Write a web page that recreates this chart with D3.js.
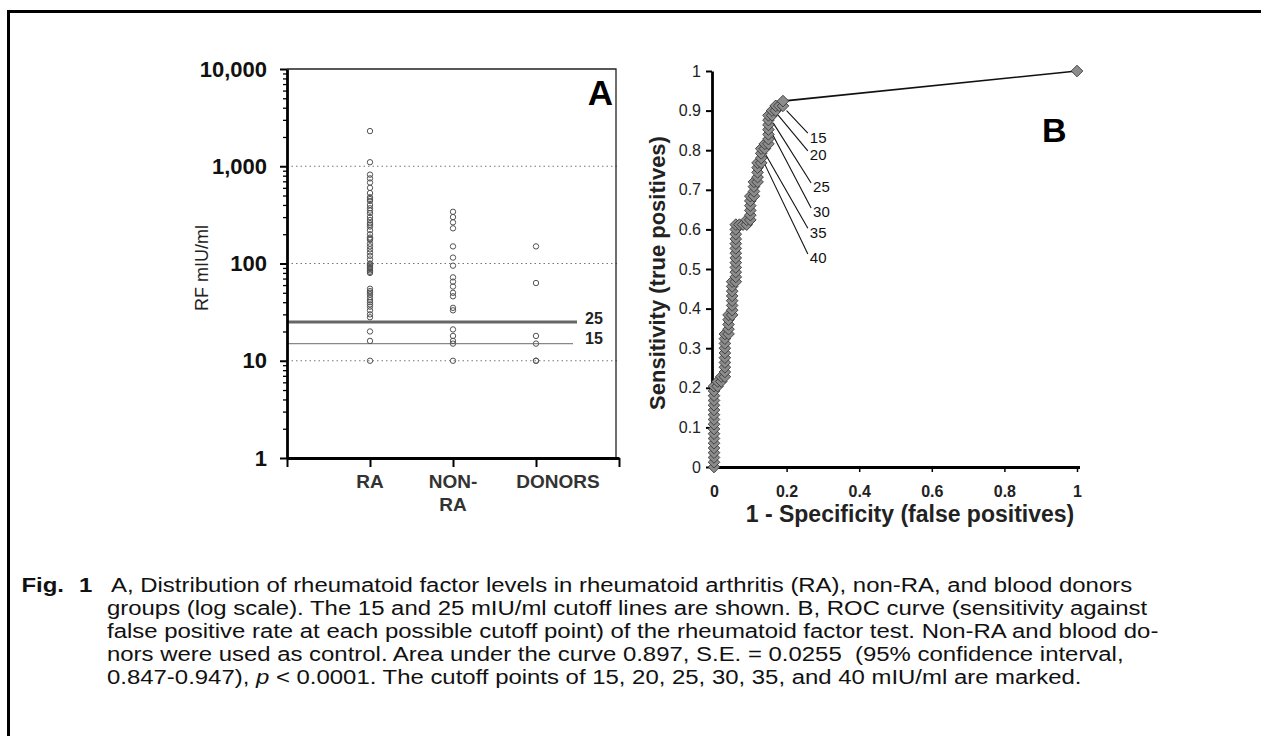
<!DOCTYPE html>
<html>
<head>
<meta charset="utf-8">
<script src="https://cdn.jsdelivr.net/npm/d3@7"></script>
<style>
  body { margin: 0; background: #fff; }
  svg { display: block; font-family: "Liberation Sans", Arial, sans-serif; }
</style>
</head>
<body>
<svg id="fig" width="1261" height="736"></svg>
<script>
// ---- panel A : RF levels (mIU/ml), log scale ----
const groups = ["RA", "NON-RA", "DONORS"];
const groupLabelLines = [["RA"], ["NON-", "RA"], ["DONORS"]];
const raValues = [2300, 1100, 820, 750, 680, 600, 530, 480, 460, 440, 400, 370, 350, 330, 300,
  280, 260, 250, 240, 220, 200, 185, 180, 175, 160, 150, 140, 130, 120, 110, 100, 98, 95, 92,
  90, 88, 85, 82, 80, 55, 52, 50, 48, 45, 42, 40, 38, 36, 33, 30, 28, 20, 16, 10];
const nonRaValues = [340, 300, 265, 230, 150, 115, 95, 72, 65, 58, 50, 46, 35, 33, 21, 18, 16, 15, 10];
const donorValues = [150, 63, 18, 15, 10, 10];
const decadeTicks = [1, 10, 100, 1000, 10000];
const gridValues = [10, 100, 1000];
const cutoffLines = [25, 15];

// ---- panel B : ROC curve ----
const fpr = [0, 0, 0, 0, 0, 0, 0, 0, 0, 0, 0, 0, 0, 0, 0, 0, 0, 0,
  0.01, 0.01, 0.02, 0.02, 0.03, 0.03, 0.03, 0.03, 0.03, 0.03, 0.03, 0.03, 0.03, 0.03,
  0.04, 0.04, 0.04, 0.04, 0.04, 0.05, 0.05, 0.05, 0.05, 0.05, 0.05, 0.05, 0.05,
  0.06, 0.06, 0.06, 0.06, 0.06, 0.06, 0.06, 0.06, 0.06, 0.06, 0.06, 0.06, 0.06,
  0.07, 0.08, 0.09, 0.09, 0.1, 0.1, 0.1, 0.1, 0.1, 0.1, 0.11, 0.11, 0.11, 0.11,
  0.12, 0.12, 0.12, 0.12, 0.12, 0.13, 0.13, 0.13, 0.13, 0.14, 0.14, 0.15, 0.15, 0.15,
  0.15, 0.15, 0.15, 0.15, 0.16, 0.16, 0.17, 0.17, 0.18, 0.19, 0.19, 1];
const tpr = [0, 0.012, 0.024, 0.036, 0.048, 0.06, 0.072, 0.084, 0.096, 0.108, 0.12, 0.132, 0.144, 0.156, 0.168, 0.18, 0.192, 0.204,
  0.204, 0.216, 0.216, 0.228, 0.228, 0.24, 0.252, 0.264, 0.276, 0.288, 0.3, 0.312, 0.324, 0.336,
  0.336, 0.348, 0.36, 0.372, 0.384, 0.384, 0.396, 0.408, 0.42, 0.432, 0.444, 0.456, 0.468,
  0.468, 0.48, 0.492, 0.504, 0.516, 0.528, 0.54, 0.552, 0.564, 0.576, 0.588, 0.6, 0.612,
  0.612, 0.612, 0.612, 0.624, 0.624, 0.636, 0.648, 0.66, 0.672, 0.684, 0.684, 0.696, 0.708, 0.72,
  0.72, 0.732, 0.744, 0.756, 0.768, 0.768, 0.78, 0.792, 0.804, 0.804, 0.816, 0.816, 0.828, 0.84,
  0.852, 0.864, 0.876, 0.888, 0.888, 0.9, 0.9, 0.912, 0.912, 0.912, 0.924, 1];
const rocYTicks = [0, 0.1, 0.2, 0.3, 0.4, 0.5, 0.6, 0.7, 0.8, 0.9, 1];
const rocXTicks = [0, 0.2, 0.4, 0.6, 0.8, 1];
// cutoff points marked on the curve and where their numbers sit
const cutoffNames = ["15", "20", "25", "30", "35", "40"];
const cutoffFpr = [0.2, 0.176, 0.163, 0.152, 0.143, 0.138];
const cutoffTpr = [0.9, 0.889, 0.869, 0.856, 0.788, 0.768];
const cutoffLabelFpr = [0.264, 0.264, 0.273, 0.273, 0.264, 0.264];
const cutoffLabelTpr = [0.833, 0.788, 0.707, 0.644, 0.593, 0.528];

const captionLines = [
  "A, Distribution of rheumatoid factor levels in rheumatoid arthritis (RA), non-RA, and blood donors",
  "groups (log scale). The 15 and 25 mIU/ml cutoff lines are shown. B, ROC curve (sensitivity against",
  "false positive rate at each possible cutoff point) of the rheumatoid factor test. Non-RA and blood do-",
  "nors were used as control. Area under the curve 0.897, S.E. = 0.0255  (95% confidence interval,",
  "0.847-0.947), |p| < 0.0001. The cutoff points of 15, 20, 25, 30, 35, and 40 mIU/ml are marked."
];

const svg = d3.select("#fig");

// outer frame of the figure
svg.append("rect").attr("x", 8.5).attr("y", 11.5).attr("width", 1300).attr("height", 800)
  .attr("fill", "none").attr("stroke", "#000").attr("stroke-width", 3);

// ================= panel A =================
const xA = d3.scaleLinear().domain([0, 4]).range([287, 619]);
const yA = d3.scaleLog().domain([1, 10000]).range([458, 69]);

const gA = svg.append("g");

// dotted grid lines
gA.selectAll(".grid").data(gridValues).enter().append("line")
  .attr("x1", xA(0)).attr("x2", xA(4))
  .attr("y1", d => yA(d)).attr("y2", d => yA(d))
  .attr("stroke", "#777").attr("stroke-width", 1.2).attr("stroke-dasharray", "1.5,3");

// top and right edges of plot area
gA.append("path")
  .attr("d", `M${xA(0)},${yA(10000)}H${xA(4) - 3}V${yA(1)}`)
  .attr("fill", "none").attr("stroke", "#222").attr("stroke-width", 1.3);

// cutoff lines
gA.selectAll(".cut").data(cutoffLines).enter().append("line")
  .attr("x1", xA(0)).attr("x2", (d, i) => i == 0 ? 577 : 573)
  .attr("y1", d => yA(d)).attr("y2", d => yA(d))
  .attr("stroke", (d, i) => i == 0 ? "#666" : "#888")
  .attr("stroke-width", (d, i) => i == 0 ? 3 : 1.2);
gA.selectAll(".cutlab").data(cutoffLines).enter().append("text")
  .attr("x", 585).attr("y", d => yA(d)).attr("dy", (d, i) => i == 0 ? "0.1em" : "0.0em")
  .attr("font-size", 16).attr("font-weight", "bold").attr("fill", "#222")
  .text(d => d);

// points
const groupValues = [raValues, nonRaValues, donorValues];
groupValues.forEach(function(vals, i) {
  gA.selectAll(".pt" + i).data(vals).enter().append("circle")
    .attr("cx", xA(i + 1)).attr("cy", d => yA(d)).attr("r", 2.7)
    .attr("fill", "none").attr("stroke", "#555").attr("stroke-width", 1);
});

// y axis, minor ticks then majors
const minorTicks = yA.ticks().filter(d => decadeTicks.indexOf(d) < 0);
gA.append("g").attr("transform", `translate(${xA(0)},0)`)
  .call(d3.axisLeft(yA).tickValues(minorTicks).tickSize(4).tickFormat(""))
  .call(g => g.select(".domain").remove())
  .selectAll("line").attr("stroke-width", 1.3);
const yAxA = gA.append("g").attr("transform", `translate(${xA(0)},0)`)
  .call(d3.axisLeft(yA).tickValues(decadeTicks).tickFormat(d3.format(",")).tickSize(7).tickSizeOuter(0).tickPadding(13));
yAxA.select(".domain").attr("stroke-width", 2.8);
yAxA.selectAll("line").attr("stroke-width", 2);
yAxA.selectAll("text").attr("font-size", 22).attr("font-weight", "bold")
  .attr("font-family", "'Liberation Sans', Arial, sans-serif").attr("fill", "#111");

// x axis
const xAxA = gA.append("g").attr("transform", `translate(0,${yA(1)})`)
  .call(d3.axisBottom(xA).tickValues([0, 1, 2, 3, 4]).tickFormat("").tickSize(9).tickSizeOuter(0));
xAxA.select(".domain").attr("stroke-width", 2.8);
xAxA.selectAll("line").attr("stroke-width", 2);

gA.selectAll(".cat").data(groups).enter().append("text")
  .attr("y", 488)
  .attr("text-anchor", "middle").attr("font-size", 19).attr("font-weight", "bold").attr("fill", "#333")
  .each(function(d, i) {
    const t = d3.select(this);
    groupLabelLines[i].forEach(function(line, j) {
      t.append("tspan").attr("x", xA(i + 1) + (i == 2 ? 22 : 0)).attr("dy", j == 0 ? 0 : 23).text(line);
    });
  });

gA.append("text")
  .attr("transform", "translate(208,268) rotate(-90)")
  .attr("text-anchor", "middle").attr("font-size", 18).attr("fill", "#222")
  .text("RF mIU/ml");

gA.append("text").attr("x", 613).attr("y", 105).attr("text-anchor", "end")
  .attr("font-size", 35).attr("font-weight", "bold").text("A");

// ================= panel B =================
const xB = d3.scaleLinear().domain([0, 1]).range([714, 1077]);
const yB = d3.scaleLinear().domain([0, 1]).range([467, 71]);
const gB = svg.append("g");

const yAxB = gB.append("g").attr("transform", `translate(${xB(0) - 2},0)`)
  .call(d3.axisLeft(yB).tickValues(rocYTicks).tickFormat(d => String(+d.toFixed(1))).tickSize(6).tickSizeOuter(0).tickPadding(5));
yAxB.select(".domain").attr("stroke-width", 2.8);
yAxB.selectAll("line").attr("stroke-width", 2);
yAxB.selectAll("text").attr("font-size", 16).attr("fill", "#222")
  .attr("font-family", "'Liberation Sans', Arial, sans-serif");

const xAxB = gB.append("g").attr("transform", `translate(0,${yB(0)})`)
  .call(d3.axisBottom(xB).tickValues(rocXTicks).tickFormat(d => String(+d.toFixed(1))).tickSize(5).tickSizeOuter(0).tickPadding(14));
xAxB.select(".domain").attr("stroke-width", 2.8).attr("d", `M${xB(0) - 3},0.5H${xB(1) + 3}`);
xAxB.selectAll("line").attr("stroke-width", 1.5);
xAxB.selectAll("text").attr("font-size", 16).attr("font-weight", "bold").attr("fill", "#222")
  .attr("font-family", "'Liberation Sans', Arial, sans-serif");

// leader lines for the cutoff numbers
gB.selectAll(".lead").data(cutoffNames).enter().append("line")
  .attr("x1", (d, i) => xB(cutoffFpr[i])).attr("y1", (d, i) => yB(cutoffTpr[i]))
  .attr("x2", (d, i) => xB(cutoffLabelFpr[i]) - 2).attr("y2", (d, i) => yB(cutoffLabelTpr[i]) - 4)
  .attr("stroke", "#111").attr("stroke-width", 1.1);
gB.selectAll(".cutB").data(cutoffNames).enter().append("text")
  .attr("x", (d, i) => xB(cutoffLabelFpr[i])).attr("y", (d, i) => yB(cutoffLabelTpr[i]))
  .attr("dy", "0.36em").attr("font-size", 15).attr("fill", "#111")
  .text(d => d);

// ROC line + diamonds
const roc = fpr.map((f, i) => [f, tpr[i]]);
gB.append("path").datum(roc)
  .attr("d", d3.line().x(d => xB(d[0])).y(d => yB(d[1])))
  .attr("fill", "none").attr("stroke", "#111").attr("stroke-width", 1.6);
const diamond = d3.symbol(d3.symbolSquare).size(68);
gB.selectAll(".dia").data(roc).enter().append("path")
  .attr("d", diamond)
  .attr("transform", d => `translate(${xB(d[0])},${yB(d[1])}) rotate(45)`)
  .attr("fill", "#8c8c8c").attr("stroke", "#333").attr("stroke-width", 0.8);

gB.append("text")
  .attr("transform", "translate(665,273) rotate(-90)")
  .attr("text-anchor", "middle").attr("font-size", 22).attr("font-weight", "bold").attr("fill", "#222")
  .text("Sensitivity (true positives)");
gB.append("text").attr("x", 910).attr("y", 522)
  .attr("text-anchor", "middle").attr("font-size", 23).attr("font-weight", "bold").attr("fill", "#222")
  .text("1 - Specificity (false positives)");

gB.append("text").attr("x", 1042).attr("y", 142)
  .attr("font-size", 34).attr("font-weight", "bold").text("B");

// ================= caption =================
// the caption type in the source is wide, so it is stretched sideways
const sx = 1.14;
const cap = svg.append("g").attr("transform", `scale(${sx},1)`)
  .attr("font-size", 21).attr("fill", "#111");
cap.append("text").attr("x", 64 / sx).attr("y", 592).attr("text-anchor", "end")
  .attr("font-weight", "bold").text("Fig.");
cap.append("text").attr("x", 79 / sx).attr("y", 592).attr("font-weight", "bold").text("1");
captionLines.forEach(function(line, i) {
  const t = cap.append("text").attr("x", (i == 0 ? 111 : 107) / sx).attr("y", 592 + i * 23)
    .attr("xml:space", "preserve");
  line.split("|").forEach(function(part, j) {
    t.append("tspan").attr("font-style", j == 1 ? "italic" : null).text(part);
  });
});
</script>
</body>
</html>
